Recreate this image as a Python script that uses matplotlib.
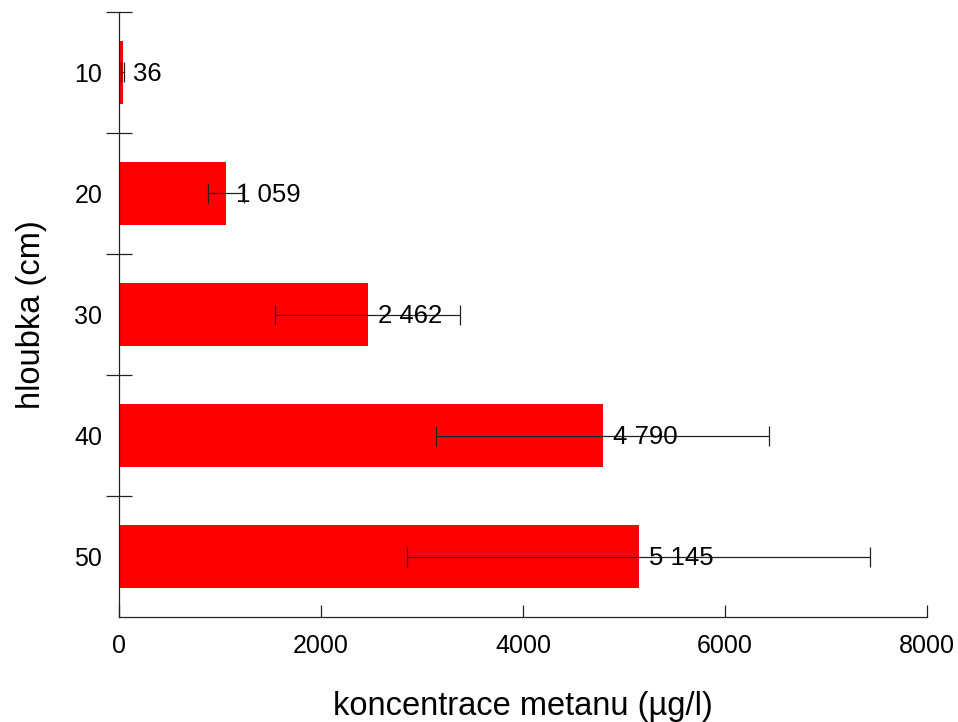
import numpy as np
import matplotlib.pyplot as plt

plt.rcParams['font.family'] = ['Liberation Sans', 'DejaVu Sans']

# hloubka odběru a průměrná koncentrace metanu se směrodatnou odchylkou
hloubky = ['10', '20', '30', '40', '50']
koncentrace = [36, 1059, 2462, 4790, 5145]
odchylka = [15, 180, 915, 1650, 2290]
x_ticks = [0, 2000, 4000, 6000, 8000]


def popisek(v):
    return '{:,}'.format(v).replace(',', ' ')


fig = plt.figure(figsize=(9.58, 7.22), dpi=100)
ax = fig.add_axes([0.1242, 0.1454, 0.8434, 0.838])

y = np.arange(len(hloubky))
ax.barh(y, koncentrace, height=0.52, color='#ff0000', zorder=2)
ax.errorbar(koncentrace, y, xerr=odchylka, fmt='none', ecolor='#222222',
            elinewidth=0.9, capsize=7, capthick=0.9, zorder=3)

for yi, v in zip(y, koncentrace):
    ax.annotate(popisek(v), (v, yi), xytext=(7.2, -1), textcoords='offset points',
                ha='left', va='center', fontsize=18.5, zorder=4)

ax.set_xlim(0, 8000)
ax.set_ylim(4.5, -0.5)
ax.set_xticks(x_ticks)
ax.set_xticklabels([str(t) for t in x_ticks])

# dělicí čárky mezi hloubkami, popisky uprostřed
ax.set_yticks(np.arange(-0.5, 4.0, 1.0))
ax.set_yticklabels([])
ax.set_yticks(y, minor=True)
ax.set_yticklabels(hloubky, minor=True)

ax.tick_params(axis='y', which='major', direction='inout', length=19.4,
               width=0.9, color='#222222')
ax.tick_params(axis='y', which='minor', length=0, pad=12, labelsize=18)
ax.tick_params(axis='x', direction='in', length=8.6, width=0.9,
               color='#222222', pad=12, labelsize=18)

for s in ['top', 'right']:
    ax.spines[s].set_visible(False)
for s in ['left', 'bottom']:
    ax.spines[s].set_linewidth(0.9)
    ax.spines[s].set_color('#222222')

ax.set_xlabel('koncentrace metanu (µg/l)', fontsize=23.5, labelpad=24)
ax.set_ylabel('hloubka (cm)', fontsize=23.5, labelpad=20)

fig.savefig('out.png', dpi=100)
